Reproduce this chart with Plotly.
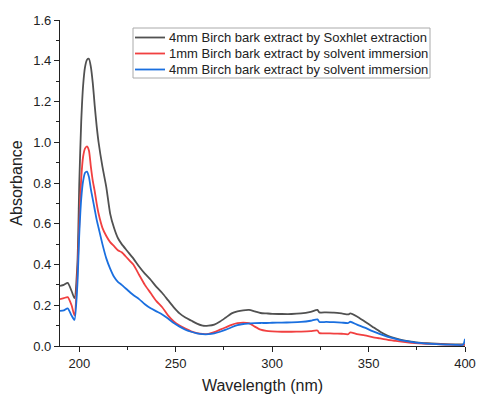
import plotly.graph_objects as go

wavelength = [190, 192, 194, 196, 197.5, 199, 200, 201, 202, 203, 204, 205, 206, 207, 208, 209, 210,
              212, 214, 216, 218, 220, 222, 225, 228, 231, 234, 237, 240, 243, 246, 249, 252, 255,
              258, 261, 264, 267, 270, 273, 276, 279, 282, 285, 288, 291, 294, 297, 300, 305, 310,
              315, 320, 323.5, 324.5, 328, 332, 336, 339.5, 340.5, 344, 348, 352, 356, 360, 364,
              368, 372, 376, 380, 385, 390, 395, 399, 400]

soxhlet_4mm = [0.295, 0.30, 0.31, 0.27, 0.235, 0.40, 0.80, 1.10, 1.28, 1.37, 1.405, 1.41, 1.37, 1.29,
               1.18, 1.08, 1.00, 0.88, 0.78, 0.65, 0.58, 0.53, 0.50, 0.465, 0.43, 0.39, 0.355, 0.325,
               0.29, 0.26, 0.225, 0.19, 0.16, 0.14, 0.125, 0.11, 0.10, 0.10, 0.105, 0.12, 0.14, 0.16,
               0.17, 0.175, 0.177, 0.17, 0.162, 0.16, 0.158, 0.157, 0.157, 0.16, 0.168, 0.177, 0.165,
               0.165, 0.164, 0.160, 0.155, 0.16, 0.145, 0.12, 0.095, 0.07, 0.05, 0.037, 0.028, 0.022,
               0.017, 0.014, 0.011, 0.009, 0.008, 0.008, 0.008]

immersion_1mm = [0.23, 0.235, 0.24, 0.20, 0.15, 0.35, 0.60, 0.82, 0.93, 0.97, 0.98, 0.96, 0.88, 0.81,
                 0.76, 0.70, 0.65, 0.58, 0.54, 0.51, 0.49, 0.47, 0.46, 0.43, 0.40, 0.35, 0.30, 0.26,
                 0.22, 0.19, 0.15, 0.12, 0.10, 0.085, 0.072, 0.063, 0.059, 0.06, 0.068, 0.08, 0.092,
                 0.104, 0.112, 0.115, 0.112, 0.095, 0.08, 0.074, 0.072, 0.070, 0.070, 0.071, 0.073,
                 0.076, 0.063, 0.062, 0.061, 0.060, 0.058, 0.067, 0.058, 0.052, 0.044, 0.037, 0.030,
                 0.025, 0.020, 0.016, 0.013, 0.011, 0.009, 0.007, 0.006, 0.006, 0.006]

immersion_4mm = [0.172, 0.175, 0.185, 0.15, 0.128, 0.30, 0.55, 0.72, 0.81, 0.85, 0.856, 0.83, 0.77,
                 0.72, 0.67, 0.62, 0.58, 0.50, 0.43, 0.38, 0.34, 0.315, 0.30, 0.275, 0.25, 0.23,
                 0.205, 0.185, 0.17, 0.155, 0.135, 0.113, 0.095, 0.08, 0.07, 0.062, 0.058, 0.058,
                 0.062, 0.07, 0.08, 0.092, 0.102, 0.108, 0.11, 0.112, 0.113, 0.113, 0.114, 0.115,
                 0.116, 0.118, 0.124, 0.131, 0.118, 0.118, 0.117, 0.115, 0.113, 0.119, 0.105, 0.09,
                 0.073, 0.058, 0.045, 0.035, 0.026, 0.02, 0.015, 0.012, 0.009, 0.007, 0.006, 0.006,
                 0.035]

series_names = ["4mm Birch bark extract by Soxhlet extraction",
                "1mm Birch bark extract by solvent immersion",
                "4mm Birch bark extract by solvent immersion"]
series_values = [soxhlet_4mm, immersion_1mm, immersion_4mm]
colors = ["#515151", "#F14040", "#1A6FDF"]

x_ticks = [200, 250, 300, 350, 400]
y_ticks = [0.0, 0.2, 0.4, 0.6, 0.8, 1.0, 1.2, 1.4, 1.6]

W, H = 477, 397
ML, MR, MT, MB = 60, 12, 20, 51
PW, PH = W - ML - MR, H - MT - MB


def px(xp):
    return (xp - ML) / PW


def py(yp):
    return (H - MB - yp) / PH


fig = go.Figure()
for name, vals, c in zip(series_names, series_values, colors):
    fig.add_trace(go.Scatter(x=wavelength, y=vals, mode="lines", name=name, showlegend=False,
                             line=dict(color=c, width=1.8, shape="spline", smoothing=0.6)))

font = "Arial, Liberation Sans, sans-serif"

# legend drawn manually to match compact row spacing
shapes = [dict(type="rect", xref="paper", yref="paper", x0=px(133), x1=px(430), y0=py(78), y1=py(28),
               line=dict(color="#aaaaaa", width=1), fillcolor="white", layer="above")]
annotations = []
row_y = [37.5, 53.5, 69.5]
for name, c, ry in zip(series_names, colors, row_y):
    shapes.append(dict(type="line", xref="paper", yref="paper", x0=px(135), x1=px(165),
                       y0=py(ry), y1=py(ry), line=dict(color=c, width=1.8), layer="above"))
    annotations.append(dict(xref="paper", yref="paper", x=px(167), y=py(ry), xanchor="left",
                            yanchor="middle", text=name, showarrow=False,
                            font=dict(family=font, size=13, color="#222")))

fig.update_layout(
    width=W, height=H,
    margin=dict(l=ML, r=MR, t=MT, b=MB),
    paper_bgcolor="white", plot_bgcolor="white",
    font=dict(family=font, size=13, color="#222"),
    showlegend=False,
    shapes=shapes, annotations=annotations,
    xaxis=dict(range=[190, 400], tickvals=x_ticks, ticktext=[str(v) for v in x_ticks],
               automargin=False,
               showgrid=False, zeroline=False, showline=True, linecolor="#222", linewidth=1.3,
               ticks="outside", ticklen=5, tickwidth=1.3, tickcolor="#222",
               minor=dict(tickvals=[225, 275, 325, 375], ticks="outside", ticklen=3,
                          tickwidth=1.1, tickcolor="#222"),
               title=dict(text="Wavelength (nm)", font=dict(size=16), standoff=10),
               tickfont=dict(size=13)),
    yaxis=dict(range=[0, 1.6], tickvals=y_ticks, ticktext=[f"{v:.1f}" for v in y_ticks],
               automargin=False,
               showgrid=False, zeroline=False, showline=True, linecolor="#222", linewidth=1.3,
               ticks="outside", ticklen=5, tickwidth=1.3, tickcolor="#222",
               minor=dict(tickvals=[0.1, 0.3, 0.5, 0.7, 0.9, 1.1, 1.3, 1.5], ticks="outside",
                          ticklen=3, tickwidth=1.1, tickcolor="#222"),
               title=dict(text="Absorbance", font=dict(size=16), standoff=6),
               tickfont=dict(size=13)),
)

fig.write_html("out.html")
